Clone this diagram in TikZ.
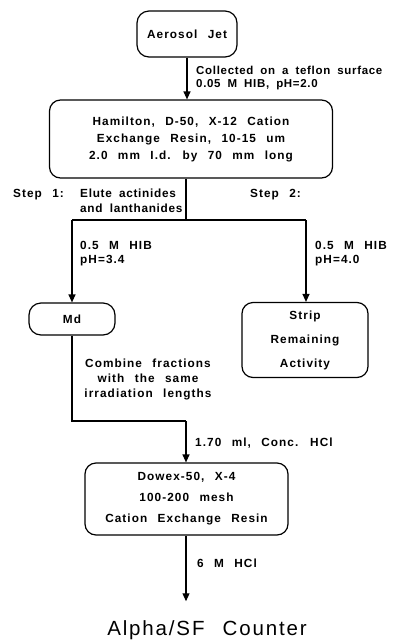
\documentclass[tikz,border=0pt]{standalone}
\usepackage{fontspec}
\setmainfont{Liberation Sans}
\newfontfamily\flowfont[LetterSpace=9,WordSpace=2.4]{Liberation Sans}
\newfontfamily\flowtight[LetterSpace=6,WordSpace=1.8]{Liberation Sans}
\usetikzlibrary{positioning, arrows.meta}
\tikzset{
  fblk/.style={draw, line width=1.2pt, rounded corners=11pt, align=center, inner sep=0pt,
               font=\flowfont\bfseries\fontsize{11.8}{17}\selectfont},
  flbl/.style={align=left, inner sep=0pt, font=\flowfont\bfseries\fontsize{11.8}{14}\selectfont},
  farr/.style={-{Triangle[length=8pt,width=7pt]}, line width=1.2pt},
  fln/.style={line width=1.2pt},
}

\begin{document}
\begin{tikzpicture}[x=1pt, y=-1pt]
        \useasboundingbox (0,0) rectangle (401,641);
        \node[fblk, rounded corners=12pt, minimum width=100pt, minimum height=46pt](jet) at (187,34){Aerosol Jet};
        \node[fblk, minimum width=283pt, minimum height=78pt](ham) at (191,139)
          {Hamilton, D-50, X-12 Cation\\Exchange Resin, 10-15 um\\2.0 mm I.d. by 70 mm long};
        \node[fblk, rounded corners=12pt, minimum width=86pt, minimum height=32pt](md) at (72,319){Md};
        \node[fblk, font=\flowfont\bfseries\fontsize{11.8}{24}\selectfont,
              minimum width=126pt, minimum height=75pt](strip) at (305,340){Strip\\Remaining\\Activity};
        \node[fblk, font=\flowfont\bfseries\fontsize{11.8}{21}\selectfont,
              minimum width=203pt, minimum height=72pt](dowex) at (186.5,499)
          {Dowex-50, X-4\\100-200 mesh\\Cation Exchange Resin};
        \node[inner sep=0pt, font=\flowfont\fontsize{20.5}{22}\selectfont](counter) at (207,630){Alpha/SF Counter};
        % labels
        \node[flbl, anchor=north west, font=\flowtight\bfseries\fontsize{11.5}{13}\selectfont](lblcol) at (196,66)
          {Collected on a teflon surface\\0.05 M HIB, pH=2.0};
        \node[flbl, anchor=base west](step1) at (13,197){Step 1:};
        \node[flbl, anchor=north west, font=\flowtight\bfseries\fontsize{11.8}{15}\selectfont](elute) at (80,189)
          {Elute actinides\\and lanthanides};
        \node[flbl, anchor=base west](step2) at (250,197){Step 2:};
        \node[flbl, anchor=north west](hiba) at (80,241){0.5 M HIB\\pH=3.4};
        \node[flbl, anchor=north west](hibb) at (315,241){0.5 M HIB\\pH=4.0};
        \node[flbl, align=center, anchor=north, font=\flowfont\bfseries\fontsize{11.8}{15}\selectfont](comb) at (148,359)
          {Combine fractions\\with the same\\irradiation lengths};
        \node[flbl, anchor=base west](conc) at (195,446){1.70 ml, Conc. HCl};
        \node[flbl, anchor=base west](hcl) at (197,567){6 M HCl};
        % connectors
        \coordinate (sp) at (186,220);
        \coordinate (spl) at (72,220);
        \coordinate (spr) at (306,220);
        \coordinate (jn) at (72,421);
        \coordinate (jnr) at (186,421);
        \draw[farr](jet.south)--(jet.south |- ham.north);
        \draw[fln](sp |- ham.south)--(sp);
        \draw[fln](spl)--(spr);
        \draw[farr](spl)--(md.north);
        \draw[farr](spr)--(spr |- strip.north);
        \draw[fln](md.south)--(jn)--(jnr);
        \draw[farr](jnr)--(jnr |- dowex.north);
        \draw[farr, shorten >=19pt](dowex.south -| jnr)--(jnr |- counter.north);
      \end{tikzpicture}
\end{document}
